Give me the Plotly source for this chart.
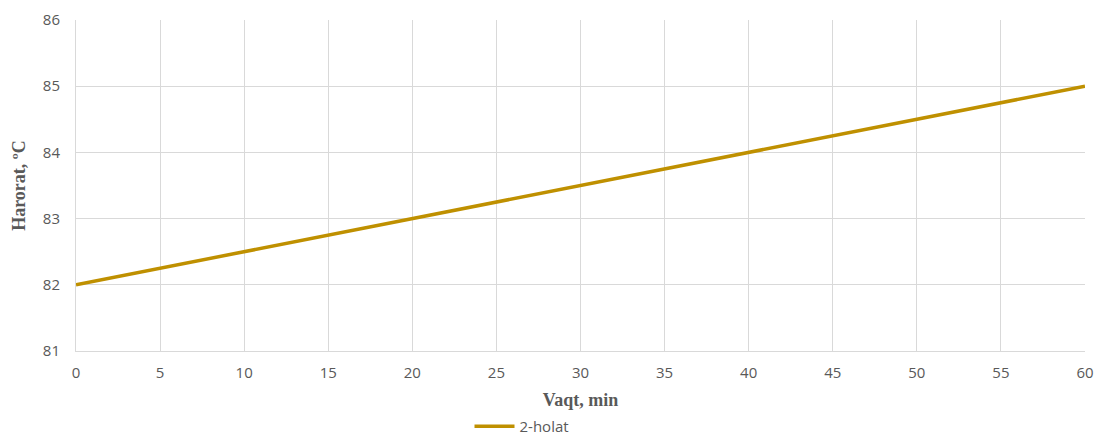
import plotly.graph_objects as go

# Time in minutes and temperature readings
vaqt = [0, 5, 10, 15, 20, 25, 30, 35, 40, 45, 50, 55, 60]
harorat = [82.0, 82.25, 82.5, 82.75, 83.0, 83.25, 83.5, 83.75, 84.0, 84.25, 84.5, 84.75, 85.0]
series_name = "2-holat"

x_ticks = [0, 5, 10, 15, 20, 25, 30, 35, 40, 45, 50, 55, 60]
y_ticks = [81, 82, 83, 84, 85, 86]

grid = "#d9d9d9"
text_col = "#595959"
serif = "Liberation Serif, Times New Roman, serif"

fig = go.Figure()
fig.add_trace(go.Scatter(
    x=vaqt, y=harorat, mode="lines", name=series_name,
    line=dict(color="#bf9000", width=3.5),
))

fig.update_layout(
    width=1098, height=443,
    margin=dict(l=76, r=13, t=20, b=92),
    paper_bgcolor="white", plot_bgcolor="white",
    font=dict(family="Open Sans, Liberation Sans, sans-serif", size=14, color=text_col),
    showlegend=True,
    legend=dict(orientation="h", x=0.39, xanchor="left", xref="paper",
                yref="container", y=0.0, yanchor="bottom",
                font=dict(size=15, color=text_col), itemwidth=40),
)
fig.update_xaxes(
    range=[0, 60], tickvals=x_ticks, showgrid=True, gridcolor=grid, gridwidth=1,
    showline=True, linecolor=grid, linewidth=1, zeroline=False, ticks="",
    tickfont=dict(size=15, color=text_col), ticklabelstandoff=8, automargin=False,
    title=dict(text="<b>Vaqt, min</b>", font=dict(family=serif, size=18, color=text_col),
               standoff=24),
)
fig.update_yaxes(
    range=[81, 86], tickvals=y_ticks, showgrid=True, gridcolor=grid, gridwidth=1,
    showline=True, linecolor=grid, linewidth=1, zeroline=False, ticks="",
    tickfont=dict(size=15, color=text_col), ticklabelstandoff=12, automargin=False,
    title=dict(text="<b>Harorat, ºC</b>", font=dict(family=serif, size=18, color=text_col),
               standoff=12),
)

fig.write_html("out.html")
